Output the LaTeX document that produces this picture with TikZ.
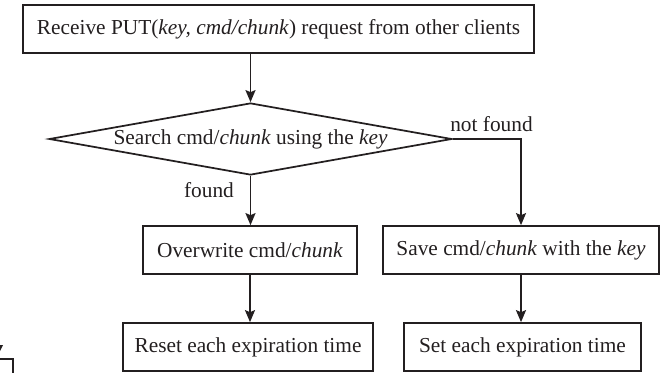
\documentclass[tikz,border=0pt]{standalone}
\usepackage{fontspec}
\setmainfont{Liberation Serif}
\usetikzlibrary{shapes.geometric,arrows.meta}
\definecolor{ink}{RGB}{35,31,32}
\begin{document}
\begin{tikzpicture}[x=0.75pt,y=-0.75pt,
  every node/.style={font=\fontsize{16}{19}\selectfont, text=ink},
  box/.style={draw=ink, line width=1.3pt, rectangle, inner sep=0pt},
  dec/.style={draw=ink, line width=1.3pt, diamond, aspect=5.6, inner sep=0pt,
    minimum width=302pt, minimum height=54pt},
  lbl/.style={inner sep=0pt},
  conn/.style={draw=ink, line width=1.3pt},
  arr/.style={conn, -{Stealth[length=9pt,width=7.5pt,inset=1.5pt]}}]
\useasboundingbox (0,0) rectangle (666,372);
\clip (0,0) rectangle (666,372);

\node[box, minimum width=383pt, minimum height=36pt] (tb) at (278.5,29)
  {Receive PUT(\textit{key, cmd/chunk}) request from other clients};
\node[dec] (d) at (250.5,139) {Search cmd/\textit{chunk} using the \textit{key}};
\node[box, minimum width=160.5pt, minimum height=36pt] (lb) at (250,250)
  {Overwrite cmd/\textit{chunk}};
\node[box, minimum width=207pt, minimum height=36pt] (rb) at (521,250)
  {Save cmd/\textit{chunk} with the \textit{key}};
\node[box, minimum width=187.5pt, minimum height=36pt] (llb) at (248,347)
  {Reset each expiration time};
\node[box, minimum width=177.75pt, minimum height=36pt] (lrb) at (522.5,347)
  {Set each expiration time};

\node[lbl] (nf) at (491.5,124) {not found};
\node[lbl] (f) at (209,190) {found};

\draw[arr] (d.north |- tb.south) -- (d.north);
\draw[arr] (d.south) -- (d.south |- lb.north);
\draw[arr] (d.east) -| (rb.north);
\draw[arr] (lb.south) -- (lb.south |- llb.north);
\draw[arr] (rb.south) -- (rb.south |- lrb.north);

% fragment of a neighbouring figure at the lower left corner
\coordinate (fa) at (-2,359);
\coordinate (fb) at (13,359);
\coordinate (fc) at (13,374);
\draw[conn] (fa) -- (fb) -- (fc);
\coordinate (ft) at (-1,353);
\fill[ink] (ft) -- (3,345) -- (-5,345) -- cycle;
\end{tikzpicture}
\end{document}
